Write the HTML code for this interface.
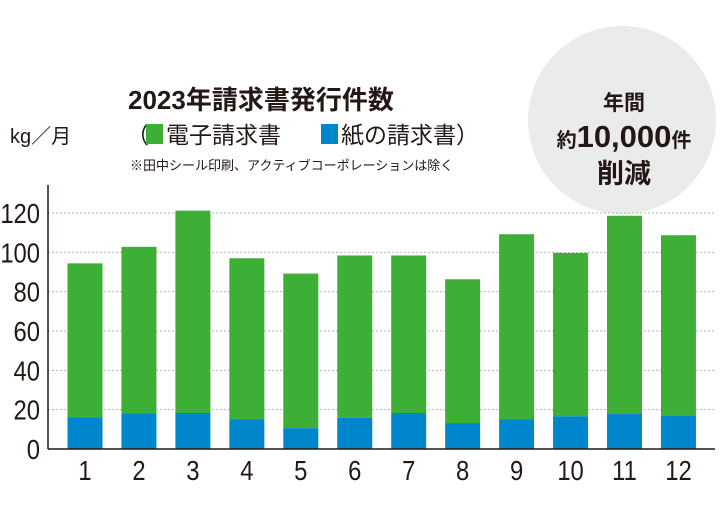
<!DOCTYPE html>
<html><head><meta charset="utf-8"><style>
body{margin:0;background:#fff;}
svg text{font-family:"Liberation Sans","Noto Sans CJK JP",sans-serif;fill:#231815;}
</style></head><body>
<svg id="chart" width="720" height="520" viewBox="0 0 720 520" xmlns="http://www.w3.org/2000/svg">
<circle cx="622" cy="120" r="94" fill="#ebebeb"/>
<text x="624" y="110" font-size="21" font-weight="bold" text-anchor="middle">年間</text>
<text x="624" y="147" font-weight="bold" text-anchor="middle"><tspan font-size="20">約</tspan><tspan font-size="31">10,000</tspan><tspan font-size="20">件</tspan></text>
<text x="624" y="183" font-size="27" font-weight="bold" text-anchor="middle">削減</text>
<text x="128" y="109" font-size="26" font-weight="bold">2023年請求書発行件数</text>
<text x="126" y="143" font-size="23">（</text>
<rect x="146" y="124" width="17" height="20" fill="#3daf37"/>
<text x="166" y="143" font-size="23">電子請求書</text>
<rect x="321" y="124" width="17" height="20" fill="#0086cc"/>
<text x="341" y="143" font-size="23">紙の請求書）</text>
<text x="130" y="170" font-size="13">※田中シール印刷、アクティブコーポレーションは除く</text>
<text x="10" y="143" font-size="20">kg／月</text>
<g id="grid"></g><g id="bars"></g><g id="labels"></g>
<line x1="48" y1="185" x2="48" y2="449" stroke="#231815" stroke-width="1.5"/>
<line x1="48" y1="449" x2="715" y2="449" stroke="#231815" stroke-width="1.5"/>
</svg>
<script>
const months = ["1","2","3","4","5","6","7","8","9","10","11","12"];
const totalValues = [94.4,102.8,121.2,97,89.2,98.4,98.4,86.3,109.2,99.7,118.6,108.7];
const paperValues = [16.2,18.1,18.3,15,10.6,15.9,18.3,13.2,15.2,16.6,17.8,16.8];
const yTicks = [0,20,40,60,80,100,120];
const NS="http://www.w3.org/2000/svg";
const y0=449, perUnit=(449-213)/120;
function yScale(v){return y0-v*perUnit;}
function xCenter(i){return 85+i*53.95;}
const bw=35;
function mk(tag,attrs,parent){const e=document.createElementNS(NS,tag);for(const k in attrs)e.setAttribute(k,attrs[k]);document.getElementById(parent).appendChild(e);return e;}
yTicks.forEach(t=>{
  if(t>0){const l=mk('line',{x1:48,x2:715,y1:yScale(t),y2:yScale(t),stroke:'#b5b5b5','stroke-width':1,'stroke-dasharray':'2,2'},'grid');
  
  }
  const tx=mk('text',{x:40,y:yScale(t)+10,'font-size':28,'text-anchor':'end',transform:'scale(0.85,1)'},'labels');
  tx.setAttribute('x',40/0.85);
  tx.textContent=t;
  
  
});
months.forEach((m,i)=>{
  const x=xCenter(i)-bw/2;
  const g=mk('rect',{x:x,y:yScale(totalValues[i]),width:bw,height:yScale(paperValues[i])-yScale(totalValues[i]),fill:'#3daf37'},'bars');
  
  
  const b=mk('rect',{x:x,y:yScale(paperValues[i]),width:bw,height:y0-yScale(paperValues[i]),fill:'#0086cc'},'bars');
  
  
  const t=mk('text',{x:xCenter(i)/0.85,y:480,'font-size':28,'text-anchor':'middle',transform:'scale(0.85,1)'},'labels');
  t.textContent=m;
  
  
});
</script>
</body></html>
